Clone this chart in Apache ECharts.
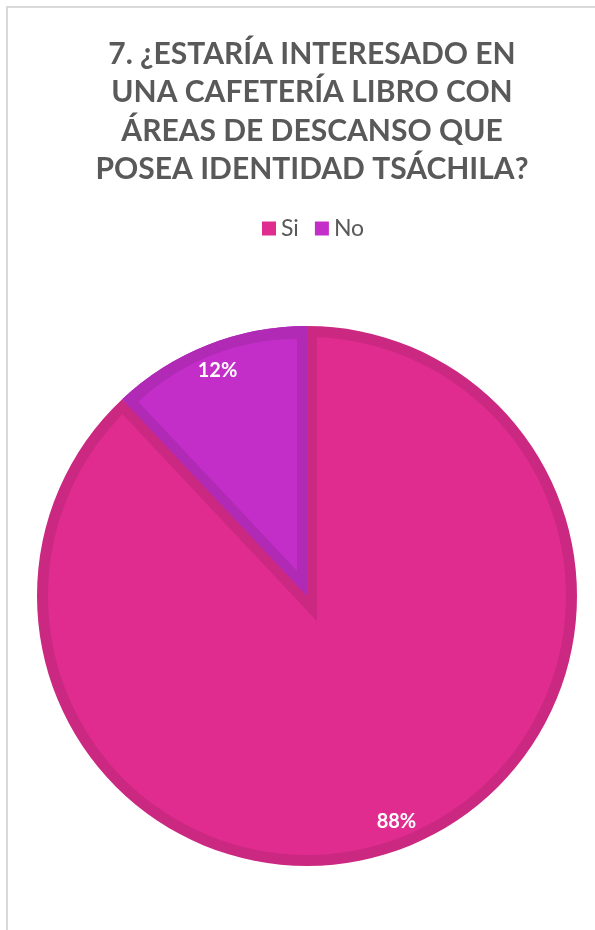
<!DOCTYPE html>
<html>
<head>
<meta charset="utf-8">
<script src="https://cdn.jsdelivr.net/npm/echarts@6/dist/echarts.min.js"></script>
<style>
  html, body { margin: 0; padding: 0; background: #ffffff; }
  #chart { width: 595px; height: 930px; }
</style>
</head>
<body>
<div id="chart"></div>
<script>
// Survey answers (percent of respondents)
const categories = ['Si', 'No'];
const values = [88, 12];
const titleText = '7. ¿ESTARÍA INTERESADO EN\nUNA CAFETERÍA LIBRO CON\nÁREAS DE DESCANSO QUE\nPOSEA IDENTIDAD TSÁCHILA?';

// Fill and inner-edge (bevel) colours per category
const fillColors = ['#e02c8f', '#c42ec8'];
const edgeColors = ['#cb2882', '#b02ab6'];

// Pie geometry
const C = [307, 596];
const R = 270;
const band = 10;   // inset edge width along the radial sides
const rim = 11;    // inset edge width along the outer arc
const Ri = R - rim;

// Angles of the smaller ("No") slice, clockwise from 12 o'clock
const total = values.reduce((a, b) => a + b, 0);
const sweep = 360 * values[1] / total;
const start = 360 * values[0] / total;
const half = (sweep / 2) * Math.PI / 180;
const bis = (start + sweep / 2) * Math.PI / 180;
const ux = Math.sin(bis), uy = -Math.cos(bis);
const shift = band / Math.sin(half);
// apex of the inset "No" interior and of the widened "No" wedge
const pIn = [C[0] + shift * ux, C[1] + shift * uy];
const pOut = [C[0] - shift * ux, C[1] - shift * uy];

const clear = 'rgba(0,0,0,0)';

function layer(center, radius, colors) {
  return {
    type: 'pie',
    center: center,
    radius: radius,
    startAngle: 90,
    clockwise: true,
    silent: true,
    animation: false,
    label: { show: false },
    labelLine: { show: false },
    emphasis: { disabled: true },
    data: categories.map((name, i) => ({
      name: name,
      value: values[i],
      itemStyle: { color: colors[i], borderWidth: 0 }
    }))
  };
}

const series = [
  // dark outer rim of both slices
  layer(C, R, edgeColors),
  // light body of "Si"
  layer(C, Ri, [fillColors[0], fillColors[0]]),
  // "Si" inset edge along the "No" boundary
  layer(pOut, R - 6 + shift, [clear, edgeColors[0]]),
  // "No" slice dark edge
  layer(C, R, [clear, edgeColors[1]]),
  // light body of "No"
  layer(pIn, Ri - shift, [clear, fillColors[1]]),
  // value labels
  {
    type: 'pie',
    center: C,
    radius: [R - 60, R],
    startAngle: 90,
    clockwise: true,
    silent: true,
    animation: false,
    labelLine: { show: false },
    emphasis: { disabled: true },
    label: {
      show: true,
      position: 'inside',
      color: '#ffffff',
      fontFamily: 'Lato',
      fontWeight: 'bold',
      fontSize: 20,
      formatter: p => p.value + '%'
    },
    data: categories.map((name, i) => ({
      name: name,
      value: values[i],
      itemStyle: { color: clear, borderWidth: 0 }
    }))
  }
];

const chart = echarts.init(document.getElementById('chart'), null, { renderer: 'canvas' });
chart.setOption({
  animation: false,
  backgroundColor: '#ffffff',
  title: {
    text: titleText,
    left: 307,
    top: 30,
    textAlign: 'center',
    textStyle: {
      color: '#595959',
      fontFamily: 'Lato',
      fontWeight: 'bold',
      fontSize: 30,
      lineHeight: 38.5
    }
  },
  legend: {
    data: categories.map((name, i) => ({ name: name, itemStyle: { color: fillColors[i] } })),
    left: 257,
    top: 212,
    icon: 'rect',
    itemWidth: 14,
    itemHeight: 14,
    itemGap: 16,
    selectedMode: false,
    textStyle: { color: '#595959', fontFamily: 'Lato', fontSize: 23 }
  },
  graphic: [{
    type: 'rect',
    silent: true,
    shape: { x: 7, y: 7, width: 640, height: 980 },
    style: { fill: 'none', stroke: '#d9d9d9', lineWidth: 2 }
  }],
  series: series
});
</script>
</body>
</html>
